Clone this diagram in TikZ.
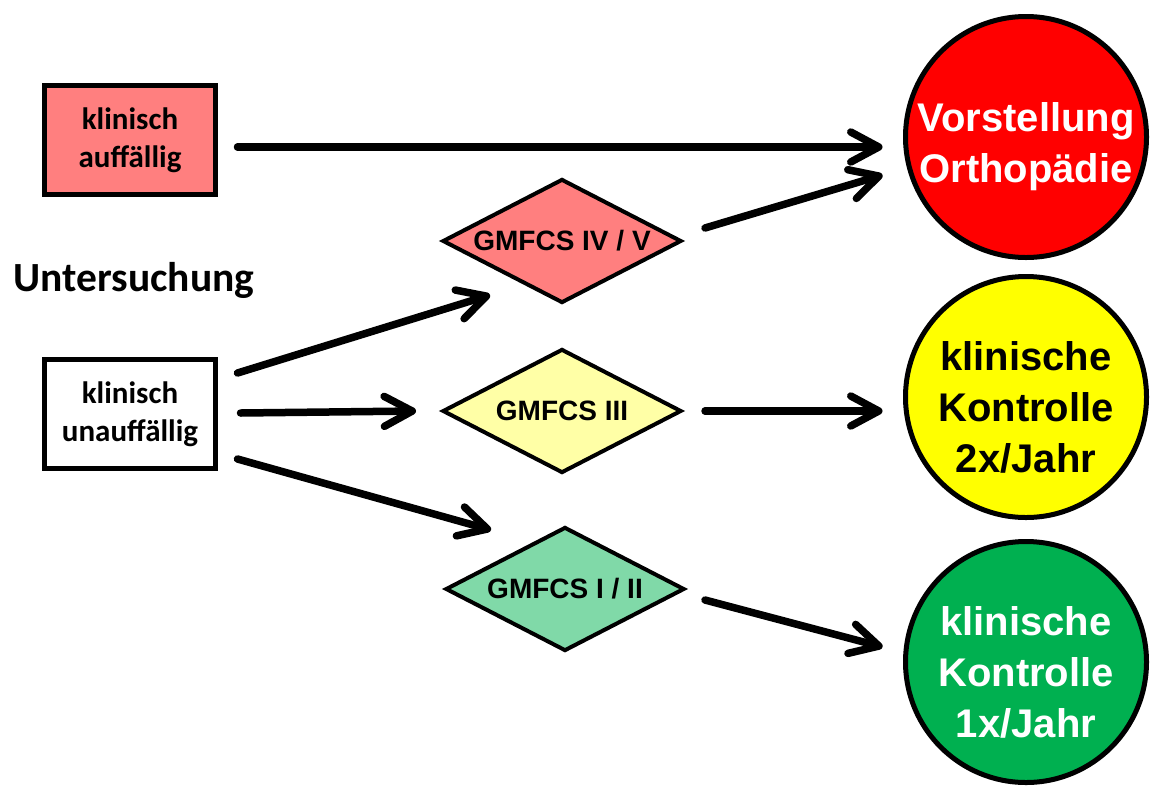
\documentclass[tikz,border=0pt]{standalone}
\usepackage{fontspec}
\setmainfont{Liberation Sans}
\newfontfamily\calib{Carlito}
\usepackage{tikz}
\usetikzlibrary{shapes.geometric, arrows.meta}

\definecolor{hellrot}{HTML}{FF7F7F}
\definecolor{hellgelb}{HTML}{FFFFA6}
\definecolor{hellgruen}{HTML}{80D9A8}
\definecolor{kreisrot}{HTML}{FF0000}
\definecolor{kreisgelb}{HTML}{FFFF00}
\definecolor{kreisgruen}{HTML}{00B050}

\begin{document}
\begin{tikzpicture}[x=1pt, y=-1pt,
  box/.style={draw, line width=5pt, minimum width=171pt, minimum height=109pt, align=center,
    font=\calib\bfseries\fontsize{31}{38}\selectfont},
  raute/.style={diamond, draw, line width=4pt, inner sep=0pt, aspect=1.9,
    minimum width=239pt, minimum height=124pt, font=\bfseries\fontsize{28}{32}\selectfont},
  kreis/.style={circle, draw, line width=5pt, minimum size=241pt, inner sep=0pt},
  kreistext/.style={align=center, inner sep=0pt, yshift=-10pt, font=\bfseries\fontsize{40}{51}\selectfont},
  pfeil/.style={line width=7.5pt, line cap=round, -{Straight Barb[length=28pt, width=30pt, round]}}]
\useasboundingbox (0,0) rectangle (1150,785);
\node[box, fill=hellrot](auff) at (130,140) {klinisch\\auffällig};
\node[box, fill=white](unauff) at (130,414) {klinisch\\unauffällig};
\node[font=\calib\bfseries\fontsize{41.5}{48}\selectfont](unters) at (134,280) {Untersuchung};
\node[raute, fill=hellrot](iv) at (562,241) {GMFCS IV / V};
\node[raute, fill=hellgelb](iii) at (562,411) {GMFCS III};
\node[raute, fill=hellgruen](i) at (565,589) {GMFCS I / II};
\node[kreis, fill=kreisrot, label={[kreistext, text=white]center:Vorstellung\\Orthopädie}](vor) at (1026,137) {};
\node[kreis, fill=kreisgelb, label={[kreistext]center:klinische\\Kontrolle\\2x/Jahr}](kon2) at (1026,397) {};
\node[kreis, fill=kreisgruen, label={[kreistext, text=white]center:klinische\\Kontrolle\\1x/Jahr}](kon1) at (1026,662) {};
\draw[pfeil] ([shift={(19.5,7)}]auff.east)--([shift={(-20.5,10)}]vor.west);
\draw[pfeil] ([shift={(21.5,-13)}]iv.east)--([shift={(-20.5,38)}]vor.west);
\draw[pfeil] ([shift={(19.5,-41)}]unauff.east)--([shift={(-72,-10)}]iv.south);
\draw[pfeil] ([shift={(22.5,-1)}]unauff.east)--([shift={(-24.5,0)}]iii.west);
\draw[pfeil] ([shift={(19.5,45)}]unauff.east)--([shift={(-74,5)}]i.north);
\draw[pfeil] ([shift={(21.5,0)}]iii.east)--([shift={(-20.5,14)}]kon2.west);
\draw[pfeil] ([shift={(18.5,11)}]i.east)--([shift={(-20.5,-15)}]kon1.west);
\end{tikzpicture}
\end{document}
